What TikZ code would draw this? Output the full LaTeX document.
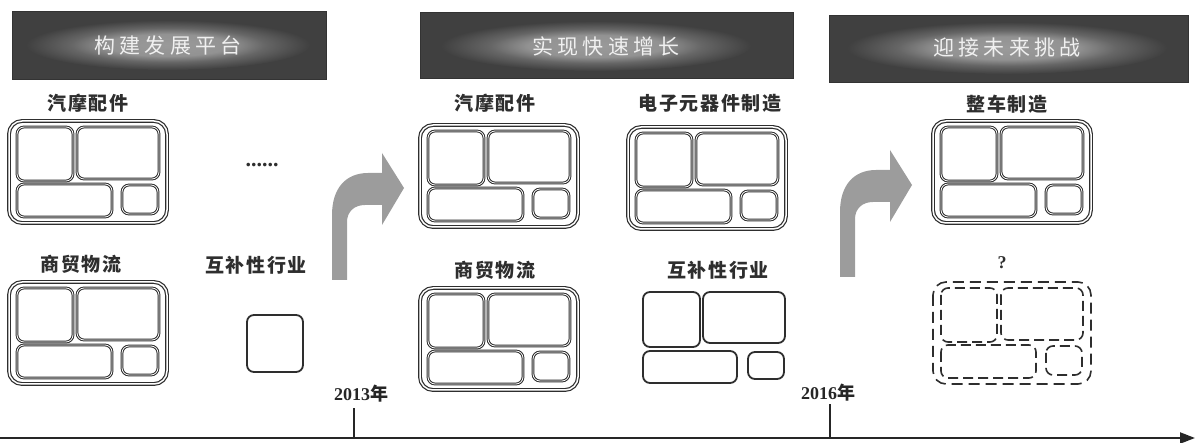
\documentclass[tikz,border=0pt]{standalone}
\usepackage{fontspec}
\setmainfont{Liberation Serif}
\newfontfamily\cjk{Noto Sans CJK SC}
\newfontfamily\cjklabel{Noto Sans CJK SC}[LetterSpace=8]
\newfontfamily\cjkbanner{Noto Sans CJK SC}[LetterSpace=20]
\usetikzlibrary{arrows.meta, positioning, calc}

\definecolor{bannerdark}{HTML}{404040}
\definecolor{glowmid}{HTML}{666666}
\definecolor{glowcore}{HTML}{9A9A9A}
\definecolor{linegray}{HTML}{2E2E2E}
\definecolor{arrowgray}{HTML}{9C9C9C}

\pgfdeclareradialshading{bannerglow}{\pgfpointorigin}{color(0bp)=(glowcore); color(11bp)=(glowcore!85!glowmid); color(17bp)=(glowmid); color(25bp)=(bannerdark); color(50bp)=(bannerdark)}

\tikzset{
  banner/.style={fill=bannerdark, draw=black!80, line width=1pt},
  bannerglowarea/.style={shading=bannerglow},
  bannertext/.style={text=white!94!black, font=\cjkbanner\fontsize{21}{21}\selectfont},
  sectorlabel/.style={text=linegray, font=\cjklabel\bfseries\fontsize{19}{19}\selectfont},
  yearlabel/.style={text=black!85, font=\bfseries\fontsize{18}{18}\selectfont},
  panelframe/.style={draw=linegray, line width=1.2pt, double=white, double distance=1.5pt, rounded corners=13pt},
  panelcell/.style={draw=linegray, line width=1pt, double=white, double distance=0.8pt, rounded corners=7pt},
  singlecell/.style={draw=linegray, line width=1.8pt, rounded corners=7pt},
  dashedpanel/.style={
    panelframe/.style={draw=linegray, line width=1.6pt, dash pattern=on 11pt off 6pt, rounded corners=13pt},
    panelcell/.style={draw=linegray, line width=1.6pt, dash pattern=on 10pt off 5pt, rounded corners=7pt}},
  panel/.pic={
    \draw[panelframe] (0,0) rectangle (158,102);
    \draw[panelcell] (8,6) rectangle (64,60);
    \draw[panelcell] (68,6) rectangle (150,58);
    \draw[panelcell] (8,63) rectangle (103,96);
    \draw[panelcell] (113,64) rectangle (149,93);
  },
  turnarrow/.pic={
    \fill[arrowgray] (0,0) -- (0,-65) .. controls (0,-92) and (14,-107) .. (36,-107)
      -- (50,-107) -- (50,-127) -- (72,-92) -- (50,-55) -- (50,-75) -- (33,-75)
      .. controls (22,-75) and (15,-68) .. (15,-58) -- (15,0) -- cycle;
  },
}

\begin{document}
\begin{tikzpicture}[x=1pt, y=-1pt]
  \useasboundingbox (0,0) rectangle (1195,443);

  % banners
  \draw[banner] (12,12) rectangle (326,80);
  \shade[bannerglowarea] (168,45) ellipse [x radius=142, y radius=25];
  \node[bannertext] (stage1) at (168,46) {构建发展平台};

  \draw[banner] (420,13) rectangle (793,79);
  \shade[bannerglowarea] (596,46) ellipse [x radius=155, y radius=25];
  \node[bannertext] (stage2) at (606,46) {实现快速增长};

  \draw[banner] (829,16) rectangle (1188,83);
  \shade[bannerglowarea] (1007,48) ellipse [x radius=160, y radius=26];
  \node[bannertext] (stage3) at (1007,48) {迎接未来挑战};

  % first stage
  \node[sectorlabel] (parts1) at (88,103) {汽摩配件};
  \pic at (9,121) {panel};
  \node[font=\bfseries\fontsize{22}{22}\selectfont, text=linegray] (more1) at (262,165) {......};
  \node[sectorlabel] (trade1) at (81,264) {商贸物流};
  \pic at (9,282) {panel};
  \node[sectorlabel] (comp1) at (256,265) {互补性行业};
  \draw[singlecell] (247,315) rectangle (303,372);

  \pic at (332,280) {turnarrow};

  % second stage
  \node[sectorlabel] (parts2) at (495,103) {汽摩配件};
  \pic at (420,125) {panel};
  \node[sectorlabel] (elec2) at (710,103) {电子元器件制造};
  \pic at (628,127) {panel};
  \node[sectorlabel] (trade2) at (495,270) {商贸物流};
  \pic at (420,288) {panel};
  \node[sectorlabel] (comp2) at (718,270) {互补性行业};
  \draw[singlecell] (643,292) rectangle (700,347);
  \draw[singlecell] (703,292) rectangle (785,343);
  \draw[singlecell] (643,351) rectangle (737,383);
  \draw[singlecell] (748,352) rectangle (784,379);

  \pic at (840,277) {turnarrow};

  % third stage
  \node[sectorlabel] (car3) at (1007,104) {整车制造};
  \pic at (933,121) {panel};
  \node[font=\bfseries\fontsize{18}{18}\selectfont, text=linegray] (unknown3) at (1002,263) {?};
  \pic[dashedpanel] at (933,282) {panel};

  % time axis
  \coordinate (axisstart) at (0,438);
  \coordinate (axisend) at (1195,438);
  \draw[line width=2.2pt, black!85, -{Triangle[length=15pt, width=11pt]}] (axisstart) -- (axisend);
  \coordinate (tick2013) at (354,438);
  \coordinate (tick2016) at (830,438);
  \draw[line width=2pt, black!85] (tick2013) -- ++(0,-30);
  \draw[line width=2pt, black!85] (tick2016) -- ++(0,-34);
  \node[yearlabel] (y2013) at (361,394) {2013{\cjk 年}};
  \node[yearlabel] (y2016) at (828,393) {2016{\cjk 年}};
\end{tikzpicture}
\end{document}
